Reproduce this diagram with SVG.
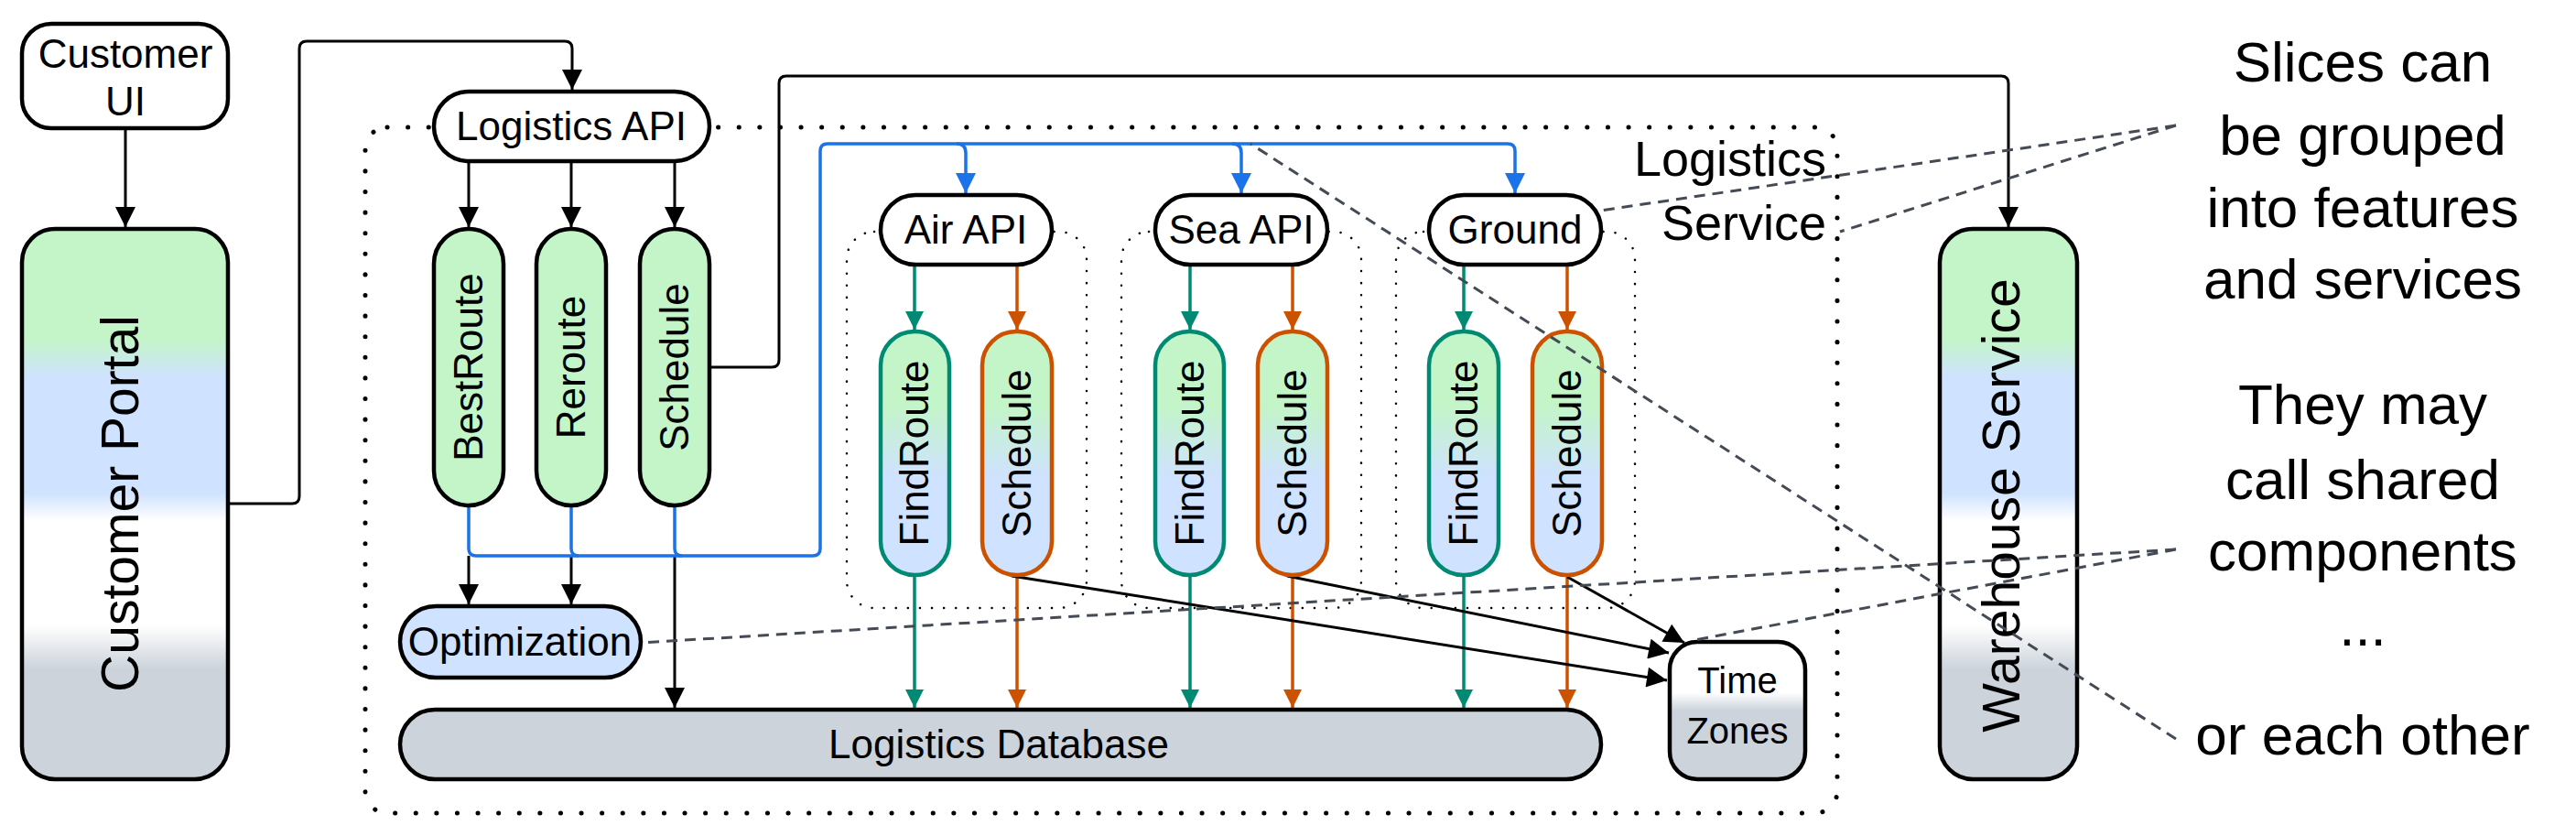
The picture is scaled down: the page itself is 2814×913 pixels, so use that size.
<svg xmlns="http://www.w3.org/2000/svg" width="2814" height="913" viewBox="0 0 2814 913">
<defs>
<linearGradient id="gBig" x1="0" y1="0" x2="0" y2="1">
<stop offset="0" stop-color="#c3f5c8"/><stop offset="0.2" stop-color="#c3f5c8"/><stop offset="0.27" stop-color="#cfe2ff"/><stop offset="0.48" stop-color="#cfe2ff"/><stop offset="0.53" stop-color="#ffffff"/><stop offset="0.72" stop-color="#ffffff"/><stop offset="0.8" stop-color="#ccd3db"/><stop offset="1" stop-color="#ccd3db"/>
</linearGradient>
<linearGradient id="gPill" x1="0" y1="0" x2="0" y2="1">
<stop offset="0" stop-color="#c3f5c8"/><stop offset="0.3" stop-color="#c3f5c8"/><stop offset="0.6" stop-color="#cfe2ff"/><stop offset="1" stop-color="#cfe2ff"/>
</linearGradient>
<linearGradient id="gTz" x1="0" y1="0" x2="0" y2="1">
<stop offset="0" stop-color="#ffffff"/><stop offset="0.37" stop-color="#ffffff"/><stop offset="0.5" stop-color="#ccd3db"/><stop offset="1" stop-color="#ccd3db"/>
</linearGradient>
<marker id="aK" viewBox="0 0 10 10" refX="10" refY="5" markerWidth="22" markerHeight="32" markerUnits="userSpaceOnUse" orient="auto"><path d="M0,0 L10,5 L0,10 z" fill="#000"/></marker>
<marker id="aKs" viewBox="0 0 10 10" refX="10" refY="5" markerWidth="32" markerHeight="22" markerUnits="userSpaceOnUse" orient="auto"><path d="M0,0 L10,5 L0,10 z" fill="#000"/></marker>
<marker id="aB" viewBox="0 0 10 10" refX="10" refY="5" markerWidth="30" markerHeight="22" markerUnits="userSpaceOnUse" orient="auto"><path d="M0,0 L10,5 L0,10 z" fill="#1a73e8"/></marker>
<marker id="aT" viewBox="0 0 10 10" refX="10" refY="5" markerWidth="30" markerHeight="20" markerUnits="userSpaceOnUse" orient="auto"><path d="M0,0 L10,5 L0,10 z" fill="#008a73"/></marker>
<marker id="aO" viewBox="0 0 10 10" refX="10" refY="5" markerWidth="30" markerHeight="20" markerUnits="userSpaceOnUse" orient="auto"><path d="M0,0 L10,5 L0,10 z" fill="#cc5200"/></marker>
</defs>
<style>
text{font-family:"Liberation Sans",Arial,sans-serif;fill:#000}
.n{stroke:#000;stroke-width:4.5}
.k{fill:none;stroke:#000;stroke-width:3}
.b{fill:none;stroke:#1a73e8;stroke-width:3.5}
.t{fill:none;stroke:#008a73;stroke-width:3.5}
.o{fill:none;stroke:#cc5200;stroke-width:3.5}
.d{fill:none;stroke:#444b55;stroke-width:3;stroke-dasharray:12 8}
.dot{fill:none;stroke:#000;stroke-width:5;stroke-linecap:round;stroke-dasharray:0.1 22.5}
.sdot{fill:none;stroke:#000;stroke-width:2.5;stroke-linecap:round;stroke-dasharray:0.1 13}
.m{font-size:44px}
.c{text-anchor:middle}
</style>
<g id="containers">
<rect class="dot" x="399" y="139" width="1608" height="749" rx="24"/>
<rect class="sdot" x="925" y="253" width="262" height="411" rx="30"/>
<rect class="sdot" x="1225" y="253" width="262" height="411" rx="30"/>
<rect class="sdot" x="1525" y="253" width="261" height="411" rx="30"/>
<text x="1995" y="192" font-size="54" text-anchor="end">Logistics</text>
<text x="1995" y="262" font-size="54" text-anchor="end">Service</text>
</g>
<g id="connectors">
<path class="k" d="M137,140 V248" marker-end="url(#aK)"/>
<path class="k" d="M249,550 H319 Q327,550 327,542 V53 Q327,45 335,45 H617 Q625,45 625,53 V98" marker-end="url(#aK)"/>
<path class="k" d="M512,176 V248" marker-end="url(#aK)"/>
<path class="k" d="M624,176 V248" marker-end="url(#aK)"/>
<path class="k" d="M737,176 V248" marker-end="url(#aK)"/>
<path class="k" d="M775,401 H843 Q851,401 851,393 V91 Q851,83 859,83 H2186 Q2194,83 2194,91 V248" marker-end="url(#aK)"/>
<path class="k" d="M512,607 V660" marker-end="url(#aK)"/>
<path class="k" d="M624,607 V660" marker-end="url(#aK)"/>
<path class="k" d="M737,607 V773" marker-end="url(#aK)"/>
<path class="b" d="M512,552 V599 Q512,607 520,607 H888 Q896,607 896,599 V165 Q896,157 904,157 H1647 Q1655,157 1655,165 V211" marker-end="url(#aB)"/>
<path class="b" d="M624,552 V599 Q624,607 632,607"/>
<path class="b" d="M737,552 V599 Q737,607 745,607"/>
<path class="b" d="M1045,157 Q1055,157 1055,167 V211" marker-end="url(#aB)"/>
<path class="b" d="M1346,157 Q1356,157 1356,167 V211" marker-end="url(#aB)"/>
<path class="t" d="M999,289 V360" marker-end="url(#aT)"/>
<path class="t" d="M1300,289 V360" marker-end="url(#aT)"/>
<path class="t" d="M1599,289 V360" marker-end="url(#aT)"/>
<path class="o" d="M1111,289 V360" marker-end="url(#aO)"/>
<path class="o" d="M1412,289 V360" marker-end="url(#aO)"/>
<path class="o" d="M1712,289 V360" marker-end="url(#aO)"/>
<path class="t" d="M999,628 V773" marker-end="url(#aT)"/>
<path class="t" d="M1300,628 V773" marker-end="url(#aT)"/>
<path class="t" d="M1599,628 V773" marker-end="url(#aT)"/>
<path class="o" d="M1111,628 V773" marker-end="url(#aO)"/>
<path class="o" d="M1412,628 V773" marker-end="url(#aO)"/>
<path class="o" d="M1712,628 V773" marker-end="url(#aO)"/>
<path class="k" d="M1105,629 L1821,743" marker-end="url(#aKs)"/>
<path class="k" d="M1406,629 L1823,713" marker-end="url(#aKs)"/>
<path class="k" d="M1712,630 L1840,702" marker-end="url(#aKs)"/>
</g>
<g id="customer-ui"><rect class="n" fill="#fff" x="24" y="26" width="225" height="114" rx="32"/>
<text class="m c" x="137" y="74">Customer</text><text class="m c" x="137" y="126">UI</text></g>
<g id="customer-portal"><rect class="n" fill="url(#gBig)" x="24" y="250" width="225" height="601" rx="36"/>
<text font-size="57" text-anchor="middle" transform="translate(151,550) rotate(-90)">Customer Portal</text></g>
<g id="logistics-api"><rect class="n" fill="#fff" x="474" y="100" width="301" height="76" rx="38"/>
<text class="m c" x="624" y="153">Logistics API</text></g>
<g id="bestroute"><rect class="n" fill="#c3f5c8" x="474" y="250" width="76" height="302" rx="38"/>
<text class="m c" transform="translate(527,401) rotate(-90)">BestRoute</text></g>
<g id="reroute"><rect class="n" fill="#c3f5c8" x="586" y="250" width="76" height="302" rx="38"/>
<text class="m c" transform="translate(639,401) rotate(-90)">Reroute</text></g>
<g id="schedule"><rect class="n" fill="#c3f5c8" x="699" y="250" width="76" height="302" rx="38"/>
<text class="m c" transform="translate(752,401) rotate(-90)">Schedule</text></g>
<g id="optimization"><rect class="n" fill="#cfe2ff" x="437" y="662" width="263" height="78" rx="39"/>
<text class="m c" x="568" y="716">Optimization</text></g>
<g id="logistics-db"><rect class="n" fill="#ccd3db" x="437" y="775" width="1312" height="76" rx="38"/>
<text class="m c" x="1091" y="828">Logistics Database</text></g>
<g id="air-api"><rect class="n" fill="#fff" x="962" y="213" width="187" height="76" rx="38"/>
<text class="m c" x="1055" y="266">Air API</text></g>
<g id="sea-api"><rect class="n" fill="#fff" x="1262" y="213" width="188" height="76" rx="38"/>
<text class="m c" x="1356" y="266">Sea API</text></g>
<g id="ground-api"><rect class="n" fill="#fff" x="1561" y="213" width="188" height="76" rx="38"/>
<text class="m c" x="1655" y="266">Ground</text></g>
<g id="air-findroute"><rect fill="url(#gPill)" stroke="#008a73" stroke-width="4.5" x="962" y="362" width="75" height="266" rx="37"/>
<text class="m c" transform="translate(1014,495) rotate(-90)">FindRoute</text></g>
<g id="air-schedule"><rect fill="url(#gPill)" stroke="#cc5200" stroke-width="4.5" x="1073" y="362" width="76" height="266" rx="37"/>
<text class="m c" transform="translate(1126,495) rotate(-90)">Schedule</text></g>
<g id="sea-findroute"><rect fill="url(#gPill)" stroke="#008a73" stroke-width="4.5" x="1262" y="362" width="75" height="266" rx="37"/>
<text class="m c" transform="translate(1315,495) rotate(-90)">FindRoute</text></g>
<g id="sea-schedule"><rect fill="url(#gPill)" stroke="#cc5200" stroke-width="4.5" x="1374" y="362" width="76" height="266" rx="37"/>
<text class="m c" transform="translate(1427,495) rotate(-90)">Schedule</text></g>
<g id="ground-findroute"><rect fill="url(#gPill)" stroke="#008a73" stroke-width="4.5" x="1561" y="362" width="76" height="266" rx="37"/>
<text class="m c" transform="translate(1614,495) rotate(-90)">FindRoute</text></g>
<g id="ground-schedule"><rect fill="url(#gPill)" stroke="#cc5200" stroke-width="4.5" x="1674" y="362" width="76" height="266" rx="37"/>
<text class="m c" transform="translate(1727,495) rotate(-90)">Schedule</text></g>
<g id="time-zones"><rect class="n" fill="url(#gTz)" x="1824" y="701" width="148" height="150" rx="30"/>
<text font-size="40" class="c" x="1898" y="757">Time</text><text font-size="40" class="c" x="1898" y="812">Zones</text></g>
<g id="warehouse"><rect class="n" fill="url(#gBig)" x="2119" y="250" width="150" height="601" rx="36"/>
<text font-size="57" text-anchor="middle" transform="translate(2206,552) rotate(-90)">Warehouse Service</text></g>
<g id="notes">
<path class="d" d="M2377,137 L1748,230 M2377,137 L2010,253 M2377,600 L700,702 M2377,600 L1851,699 M2377,807 L1366,157"/>
<g font-size="62" text-anchor="middle">
<text x="2581" y="89">Slices can</text><text x="2581" y="169">be grouped</text><text x="2581" y="248">into features</text><text x="2581" y="326">and services</text>
<text x="2581" y="463">They may</text><text x="2581" y="545">call shared</text><text x="2581" y="623">components</text><text x="2581" y="705">...</text><text x="2581" y="824">or each other</text>
</g></g>
</svg>
